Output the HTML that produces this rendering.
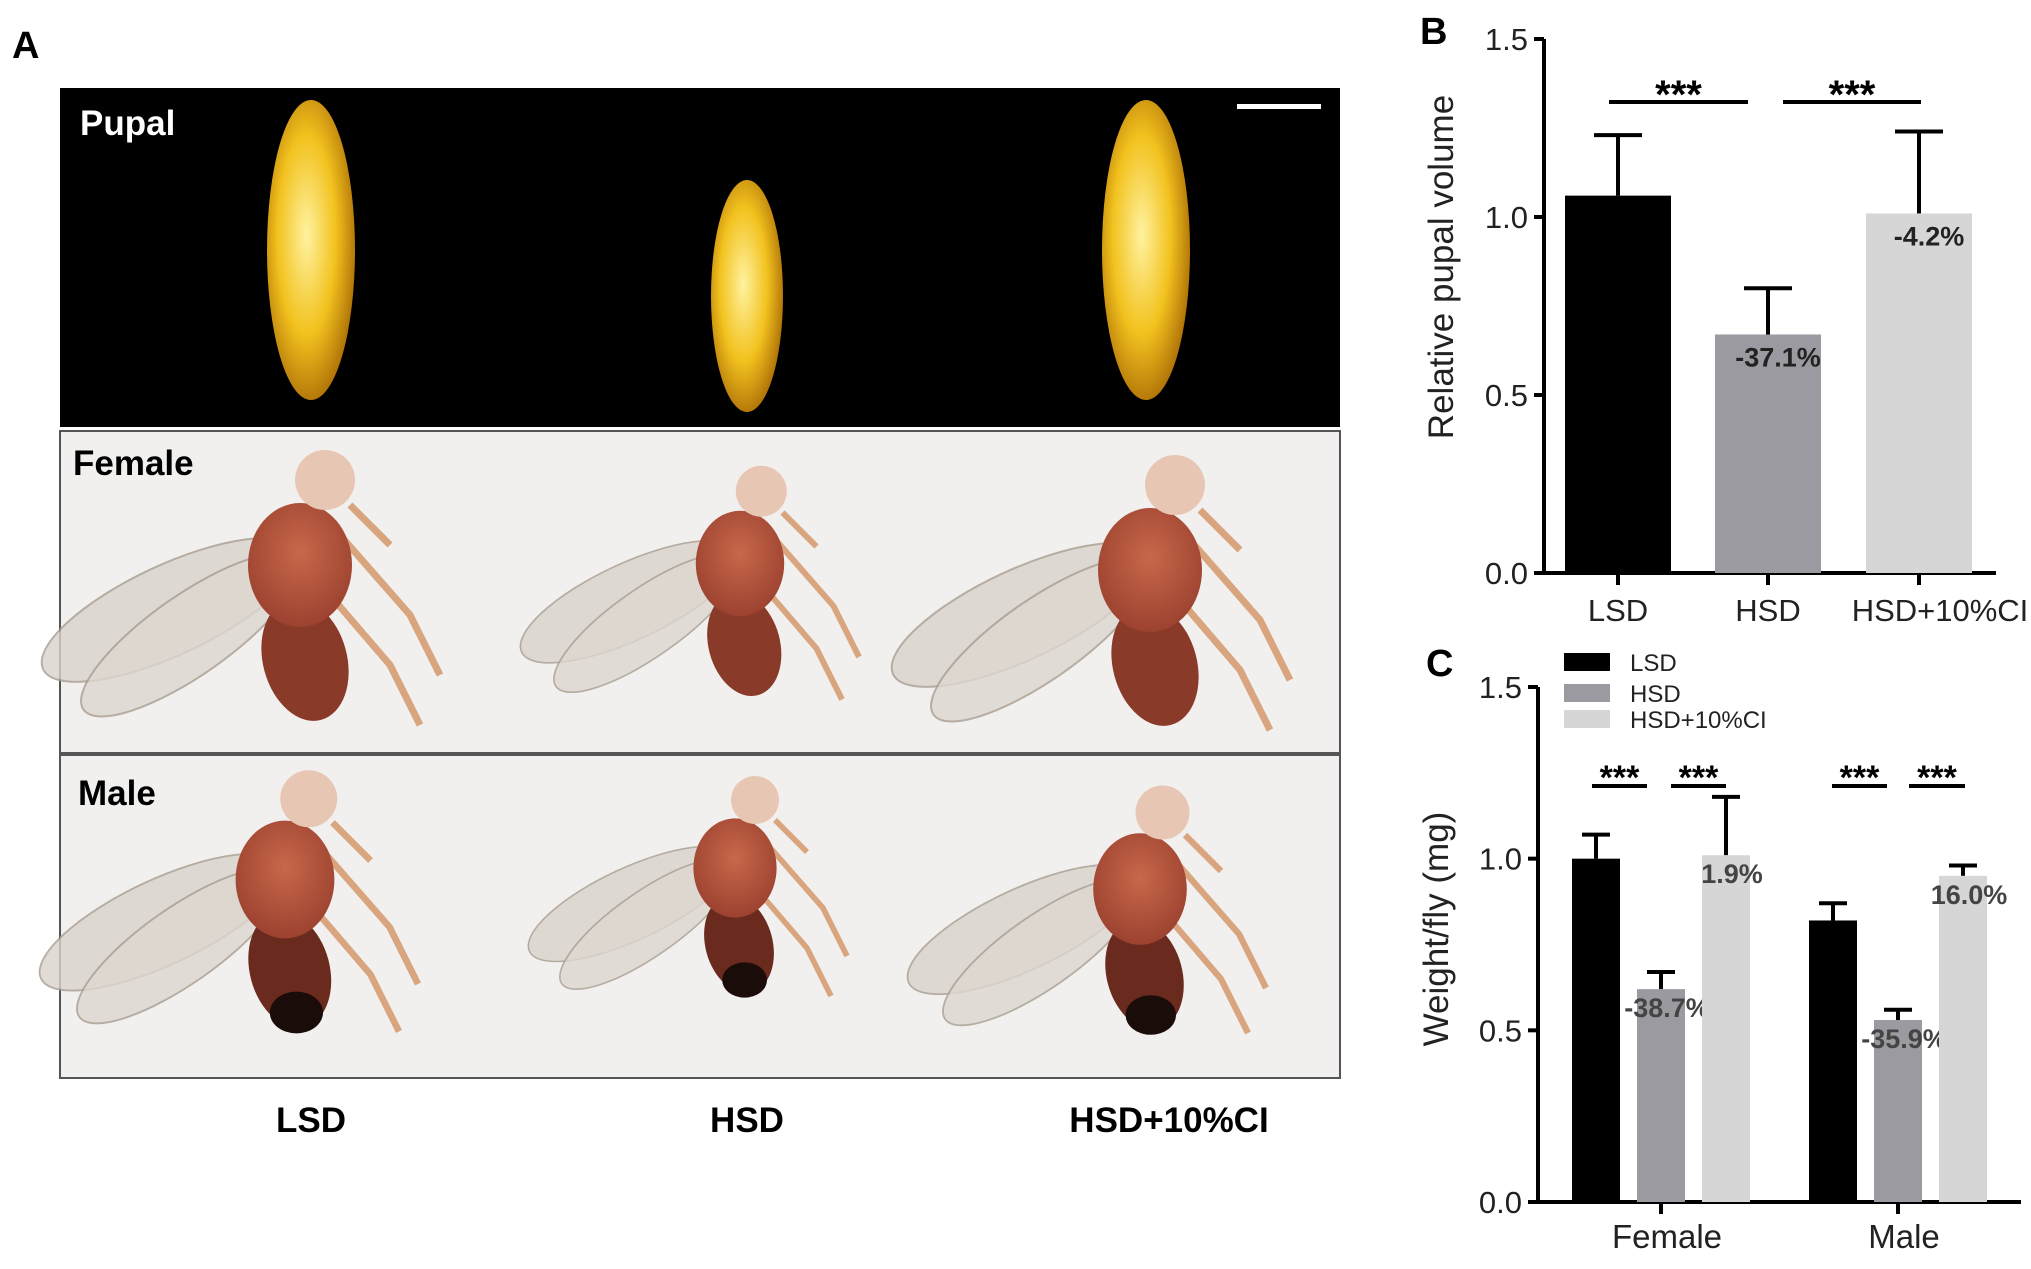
<!DOCTYPE html>
<html><head><meta charset="utf-8"><style>
html,body{margin:0;padding:0;background:#fff;}
svg{display:block;font-family:"Liberation Sans",Arial,sans-serif;}
</style></head><body>
<svg id="fig" width="2031" height="1269" viewBox="0 0 2031 1269" xmlns="http://www.w3.org/2000/svg">
<defs>
<radialGradient id="pupa" cx="0.45" cy="0.45" r="0.6"><stop offset="0" stop-color="#fff2a0"/><stop offset="0.55" stop-color="#f2c21e"/><stop offset="1" stop-color="#a86a05"/></radialGradient>
<radialGradient id="thor" cx="0.5" cy="0.4" r="0.6"><stop offset="0" stop-color="#c8684a"/><stop offset="1" stop-color="#9c4230"/></radialGradient>
</defs>
<text x="12" y="58" font-size="38" font-weight="bold">A</text>
<rect x="60" y="88" width="1280" height="339" fill="#000"/>
<rect x="1237" y="104" width="84" height="5" fill="#fff"/>
<text x="80" y="135" font-size="35" font-weight="bold" fill="#fff">Pupal</text>
<g id="pupae"></g>
<rect x="60" y="431" width="1280" height="322" fill="#f1f0ee" stroke="#555" stroke-width="2"/>
<rect x="60" y="755" width="1280" height="323" fill="#f1f0ee" stroke="#555" stroke-width="2"/>
<g id="flies"></g>
<text x="73" y="475" font-size="35" font-weight="bold">Female</text>
<text x="78" y="805" font-size="35" font-weight="bold">Male</text>
<text x="311" y="1132" font-size="35" font-weight="bold" text-anchor="middle">LSD</text>
<text x="747" y="1132" font-size="35" font-weight="bold" text-anchor="middle">HSD</text>
<text x="1169" y="1132" font-size="35" font-weight="bold" text-anchor="middle">HSD+10%CI</text>

<text x="1420" y="44" font-size="38" font-weight="bold">B</text>
<g id="chartB"></g>
<text x="1426" y="676" font-size="38" font-weight="bold">C</text>
<g id="chartC"></g>
</svg>
<script>
const NS="http://www.w3.org/2000/svg";
// Panel B data
const bCategories=["LSD","HSD","HSD+10%CI"];
const bValues=[1.06,0.67,1.01];
const bErrors=[0.17,0.13,0.23];
const bLabels=["","-37.1%","-4.2%"];
const bTicks=[0,0.5,1.0,1.5];
const bTickLabels=["0.0","0.5","1.0","1.5"];
// Panel C data
const cGroups=["Female","Male"];
const cSeries=["LSD","HSD","HSD+10%CI"];
const cLSD=[1.0,0.82];
const cHSD=[0.62,0.53];
const cCI=[1.01,0.95];
const cLSDerr=[0.07,0.05];
const cHSDerr=[0.05,0.03];
const cCIerr=[0.17,0.03];
const cLabels=[["","-38.7%","1.9%"],["","-35.9%","16.0%"]];
const cTicks=[0,0.5,1.0,1.5];
const cTickLabels=["0.0","0.5","1.0","1.5"];
const colors=["#000000","#9b9aa1","#d6d6d6"];

function mk(tag,attrs,parent){const e=document.createElementNS(NS,tag);for(const k in attrs)e.setAttribute(k,attrs[k]);parent.appendChild(e);return e;}

// Chart B
(function(){
const g=document.getElementById('chartB');
const x0=1544,x1=1996,y0=573,yTop=39;
const y=v=>y0-(v/1.5)*(y0-yTop);
let ax=mk('line',{x1:x0,y1:yTop,x2:x0,y2:y0,stroke:'#000','stroke-width':4},g);

ax=mk('line',{x1:x0,y1:y0,x2:x1,y2:y0,stroke:'#000','stroke-width':4},g);

bTicks.forEach((t,i)=>{
 const l=mk('line',{x1:x0-10,y1:y(t),x2:x0,y2:y(t),stroke:'#000','stroke-width':4},g);
 
 const tx=mk('text',{x:x0-16,y:y(t)+11,'font-size':31,'text-anchor':'end',fill:'#222'},g);tx.textContent=bTickLabels[i];
 
});
const t=mk('text',{x:0,y:0,'font-size':35,'text-anchor':'middle',transform:'translate(1453,267) rotate(-90)',fill:'#222'},g);
t.textContent='Relative pupal volume';
const centers=[1618,1768,1919],bw=106;
bCategories.forEach((c,i)=>{
 const cx=centers[i];
 const er=mk('path',{d:`M${cx} ${y(bValues[i])} V${y(bValues[i]+bErrors[i])} M${cx-24} ${y(bValues[i]+bErrors[i])} H${cx+24}`,stroke:'#000','stroke-width':4,fill:'none'},g);
 
 const r=mk('rect',{x:cx-bw/2,y:y(bValues[i]),width:bw,height:y0-y(bValues[i]),fill:colors[i]},g);
 
 const tk=mk('line',{x1:cx,y1:y0,x2:cx,y2:y0+12,stroke:'#000','stroke-width':4},g);
 
 const lx=i==2?1940:cx;
 const xl=mk('text',{x:lx,y:y0+48,'font-size':31,'text-anchor':'middle',fill:'#222'},g);xl.textContent=c;
 
 if(bLabels[i]){const pl=mk('text',{x:cx+10,y:y(bValues[i])+32,'font-size':27,'font-weight':'bold','text-anchor':'middle',fill:'#222'},g);pl.textContent=bLabels[i];
 }
});
[[1609,1748],[1783,1921]].forEach(s=>{
 const l=mk('line',{x1:s[0],y1:102,x2:s[1],y2:102,stroke:'#000','stroke-width':4},g);
 
 const st=mk('text',{x:(s[0]+s[1])/2,y:108,'font-size':40,'font-weight':'bold','text-anchor':'middle'},g);st.textContent='***';
 
});
})();

// Chart C
(function(){
const g=document.getElementById('chartC');
const x0=1538,x1=2021,y0=1202,yTop=687;
const y=v=>y0-(v/1.5)*(y0-yTop);
let ax=mk('line',{x1:x0,y1:yTop,x2:x0,y2:y0,stroke:'#000','stroke-width':4},g);

ax=mk('line',{x1:x0,y1:y0,x2:x1,y2:y0,stroke:'#000','stroke-width':4},g);

cTicks.forEach((t,i)=>{
 const l=mk('line',{x1:x0-10,y1:y(t),x2:x0,y2:y(t),stroke:'#000','stroke-width':4},g);
 
 const tx=mk('text',{x:x0-16,y:y(t)+11,'font-size':31,'text-anchor':'end',fill:'#222'},g);tx.textContent=cTickLabels[i];
 
});
const t=mk('text',{x:0,y:0,'font-size':35,'text-anchor':'middle',transform:'translate(1448,929) rotate(-90)',fill:'#222'},g);
t.textContent='Weight/fly (mg)';
const vals=[cLSD,cHSD,cCI],errs=[cLSDerr,cHSDerr,cCIerr];
const groupCenters=[1661,1898],step=65,bw=48;
cGroups.forEach((gr,gi)=>{
 const gc=groupCenters[gi];
 cSeries.forEach((s,si)=>{
  const cx=gc+(si-1)*step, v=vals[si][gi], e=errs[si][gi];
  const er=mk('path',{d:`M${cx} ${y(v)} V${y(v+e)} M${cx-14} ${y(v+e)} H${cx+14}`,stroke:'#000','stroke-width':4,fill:'none'},g);
  
  const r=mk('rect',{x:cx-bw/2,y:y(v),width:bw,height:y0-y(v),fill:colors[si]},g);
  
  if(cLabels[gi][si]){const pl=mk('text',{x:cx+6,y:y(v)+28,'font-size':27,'font-weight':'bold','text-anchor':'middle',fill:'#444'},g);pl.textContent=cLabels[gi][si];
  }
 });
 const tk=mk('line',{x1:gc,y1:y0,x2:gc,y2:y0+12,stroke:'#000','stroke-width':4},g);
 
 const xl=mk('text',{x:gc+6,y:y0+46,'font-size':33,'text-anchor':'middle',fill:'#222'},g);xl.textContent=gr;
 
});
[[1592,1647],[1671,1726],[1832,1887],[1909,1965]].forEach(s=>{
 const l=mk('line',{x1:s[0],y1:786,x2:s[1],y2:786,stroke:'#000','stroke-width':4},g);
 
 const st=mk('text',{x:(s[0]+s[1])/2,y:789,'font-size':34,'font-weight':'bold','text-anchor':'middle'},g);st.textContent='***';
 
});
const ly=[662,693,719];
cSeries.forEach((s,i)=>{
 const r=mk('rect',{x:1564,y:ly[i]-9,width:46,height:18,fill:colors[i]},g);
 
 const tx=mk('text',{x:1630,y:ly[i]+9,'font-size':24,fill:'#222'},g);tx.textContent=s;
 
});
})();

// Photo panel illustrations
(function(){
const pg=document.getElementById('pupae');
[[311,250,44,150],[747,296,36,116],[1146,250,44,150]].forEach(p=>{
 const e=mk('ellipse',{cx:p[0],cy:p[1],rx:p[2],ry:p[3],fill:'url(#pupa)'},pg);
 
});
const fg=document.getElementById('flies');
const flies=[[300,555,1,0],[740,555,0.85,0],[1150,560,1,0],[285,870,0.95,1],[735,860,0.8,1],[1140,880,0.9,1]];
flies.forEach(f=>{
 const [cx,cy,s,m]=f;
 const grp=mk('g',{transform:`translate(${cx},${cy}) scale(${s})`},fg);
 
 mk('ellipse',{cx:-130,cy:55,rx:140,ry:45,transform:'rotate(-25 -130 55)',fill:'#d9d3cb',stroke:'#a89c90','stroke-width':2,opacity:0.8},grp);
 mk('ellipse',{cx:-110,cy:80,rx:130,ry:40,transform:'rotate(-35 -110 80)',fill:'#ddd7cf',stroke:'#a89c90','stroke-width':2,opacity:0.8},grp);
 mk('path',{d:'M40 -20 L110 60 L140 120 M30 40 L90 110 L120 170 M50 -50 L90 -10',stroke:'#d9a57e','stroke-width':7,fill:'none'},grp);
 mk('ellipse',{cx:5,cy:105,rx:42,ry:62,transform:'rotate(-15 5 105)',fill:m?'#6b2a1e':'#8a3a28'},grp);
 if(m)mk('ellipse',{cx:12,cy:150,rx:28,ry:22,fill:'#1a0c08'},grp);
 mk('ellipse',{cx:0,cy:10,rx:52,ry:62,fill:'url(#thor)'},grp);
 mk('circle',{cx:25,cy:-75,r:30,fill:'#e8c6b4'},grp);
});
})();
</script>
</body></html>
